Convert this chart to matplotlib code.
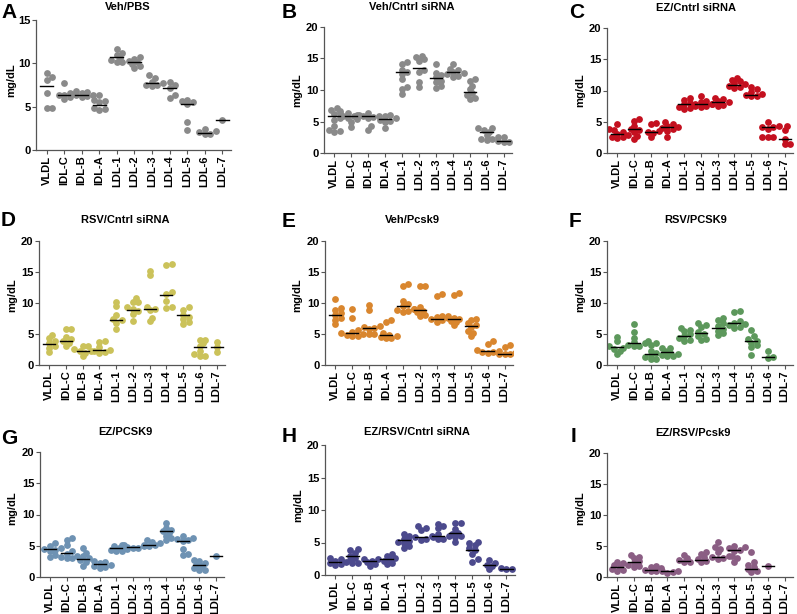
import numpy as np
import matplotlib
matplotlib.use('Agg')
import matplotlib.pyplot as plt

plt.rcParams['font.family'] = ['Liberation Sans', 'DejaVu Sans']
plt.rcParams['font.weight'] = 'bold'

CATS = ['VLDL', 'IDL-C', 'IDL-B', 'IDL-A', 'LDL-1', 'LDL-2', 'LDL-3', 'LDL-4', 'LDL-5', 'LDL-6', 'LDL-7']

# panel A  Veh/PBS
a_vals = [[8.9, 8.4, 8.1, 6.6, 4.8, 4.8], [7.7, 6.6, 6.4, 6.4, 6.1, 5.9],
          [6.8, 6.7, 6.6, 6.5, 6.4, 6.3, 6.2, 6.1], [6.3, 5.8, 5.6, 5.5, 4.9, 4.7, 4.6],
          [11.7, 11.2, 11.0, 10.6, 10.4, 10.2, 10.2], [10.7, 10.5, 10.3, 10.1, 9.9, 9.7, 9.5],
          [8.6, 8.3, 7.9, 7.7, 7.5, 7.4, 7.5], [7.9, 7.5, 7.2, 6.3, 6.0],
          [5.8, 5.6, 5.5, 5.3, 3.2, 2.3], [2.4, 2.2, 2.1, 1.9, 1.8], [3.5]]
a_mid = [7.4, 6.4, 6.4, 5.2, 10.7, 10.1, 7.7, 7.2, 5.3, 2.0, 3.5]

# panel B  Veh/Cntrl siRNA
b_vals = [[7.2, 6.8, 6.6, 6.2, 5.5, 5.3, 4.3, 3.6, 3.3, 3.5], [6.4, 6.3, 6.1, 5.9, 5.8, 5.6, 5.4, 5.0, 4.2],
          [6.3, 6.1, 5.9, 5.8, 5.7, 5.5, 4.3, 3.7], [6.1, 5.8, 5.5, 5.3, 5.1, 4.9, 3.9],
          [14.4, 14.2, 13.2, 12.8, 12.5, 11.7, 10.4, 10.1, 9.4], [15.4, 15.2, 14.9, 14.6, 13.2, 12.9, 11.3, 10.4],
          [14.2, 12.7, 12.4, 12.0, 11.5, 11.2, 10.6, 10.3], [14.2, 13.4, 13.1, 12.9, 12.7, 12.5, 12.3, 12.1],
          [11.7, 11.5, 10.7, 10.2, 9.6, 9.2, 8.8, 8.6], [4.0, 3.9, 3.7, 3.3, 2.8, 2.5, 2.2, 2.2, 2.1],
          [2.6, 1.9, 1.7, 1.8]]
b_mid = [5.8, 5.8, 5.8, 5.4, 12.8, 13.5, 11.9, 12.8, 9.7, 3.3, 1.9]

# panel C  EZ/Cntrl siRNA
c_vals = [[4.7, 3.8, 3.7, 3.4, 3.1, 2.9, 2.6, 2.5, 2.4], [5.5, 5.2, 4.4, 3.8, 3.7, 3.3, 2.8, 2.2],
          [4.8, 4.7, 3.6, 3.3, 3.2, 2.6], [4.9, 4.7, 4.3, 4.1, 4.0, 3.8, 3.6, 2.6],
          [8.8, 8.5, 8.0, 7.8, 7.6, 7.4, 7.2, 7.0], [9.2, 8.4, 8.1, 7.9, 7.8, 7.6, 7.4],
          [8.8, 8.6, 8.3, 8.1, 7.9, 7.7, 7.5], [12.0, 11.7, 11.5, 11.2, 11.0, 10.8, 10.6, 10.4],
          [10.5, 10.2, 9.8, 9.5, 9.3, 9.1, 9.2], [5.0, 4.4, 4.2, 4.1, 3.9, 2.6, 2.5, 2.5],
          [4.3, 3.7, 2.3, 1.5, 1.4]]
c_mid = [3.1, 3.8, 3.4, 4.2, 7.8, 7.9, 8.1, 10.9, 9.3, 4.2, 2.2]

# panel D  RSV/Cntrl siRNA
d_vals = [[4.8, 4.3, 3.8, 3.5, 3.1, 2.8, 2.1], [5.8, 5.8, 4.5, 4.2, 3.9, 3.6, 3.0],
          [3.1, 3.0, 2.6, 2.3, 2.2, 2.0, 1.5], [3.9, 3.7, 2.9, 2.5, 2.3, 2.1, 1.9],
          [10.2, 9.5, 8.0, 7.4, 7.2, 6.8, 5.8], [10.8, 10.2, 10.2, 9.3, 9.0, 8.7, 8.3, 7.1],
          [15.2, 14.5, 9.3, 9.0, 8.8, 7.6, 7.1], [16.3, 16.1, 11.7, 11.4, 10.4, 9.3, 9.2],
          [9.3, 8.9, 8.1, 7.8, 7.4, 7.0, 6.6], [4.1, 4.0, 3.5, 3.0, 2.2, 1.8, 1.5, 1.4],
          [3.7, 2.9, 2.1]]
d_mid = [3.4, 3.9, 2.3, 2.4, 7.3, 8.9, 9.0, 11.3, 8.1, 2.9, 2.9]

# panel E  Veh/Pcsk9
e_vals = [[10.6, 9.2, 8.8, 8.4, 8.0, 7.6, 7.3, 6.6], [9.1, 7.6, 5.6, 5.3, 5.1, 5.0, 4.9, 4.7, 4.6],
          [9.6, 8.9, 6.3, 6.1, 5.9, 5.8, 5.0, 5.0], [7.3, 6.9, 5.2, 4.9, 4.7, 4.5, 4.4, 4.3],
          [13.0, 12.8, 10.3, 9.8, 9.5, 9.0, 8.8, 8.7, 8.6], [12.8, 12.7, 9.4, 9.0, 8.7, 8.5, 8.1, 7.9],
          [11.5, 11.2, 7.9, 7.7, 7.6, 7.4, 7.2, 7.0], [11.6, 11.3, 7.9, 7.6, 7.4, 7.1, 6.9, 6.4],
          [7.5, 7.2, 6.7, 6.4, 6.1, 5.5, 5.1, 4.6], [3.8, 3.4, 2.5, 2.3, 2.1, 2.1, 2.0],
          [3.2, 2.9, 2.0, 1.8, 1.7, 1.7]]
e_mid = [8.1, 5.2, 6.0, 4.9, 9.5, 8.9, 7.5, 7.5, 6.3, 2.3, 1.8]

# panel F  RSV/PCSK9
f_vals = [[4.5, 3.8, 3.0, 2.8, 2.6, 2.2, 1.7], [6.6, 5.4, 4.4, 3.7, 3.5, 3.3, 3.1, 3.0],
          [3.8, 3.6, 3.3, 2.3, 1.9, 1.6, 1.3, 1.0, 0.9], [2.8, 2.7, 2.3, 2.0, 1.8, 1.6, 1.5, 1.4],
          [6.0, 5.7, 5.5, 5.0, 4.6, 4.3, 4.1, 3.9], [6.7, 6.5, 6.1, 5.4, 5.0, 4.6, 4.2, 4.0],
          [7.6, 7.2, 6.7, 6.3, 5.8, 5.5, 5.1, 4.8], [8.7, 8.5, 7.1, 6.8, 6.6, 6.4, 6.2, 6.0],
          [5.6, 4.6, 4.2, 3.9, 3.6, 3.2, 2.9, 1.6], [2.3, 1.3, 1.1], []]
f_mid = [2.9, 3.5, 1.8, 2.1, 4.7, 5.1, 5.9, 6.8, 3.9, 1.3, None]

# panel G  EZ/PCSK9
g_vals = [[5.4, 5.0, 4.7, 4.5, 4.3, 4.1, 3.5, 3.2], [6.3, 5.9, 5.1, 4.1, 3.7, 3.3, 3.2, 3.1, 3.0],
          [4.7, 3.9, 3.3, 3.0, 2.8, 2.4, 1.8], [2.6, 2.4, 2.2, 2.0, 1.8, 1.6, 1.5],
          [5.1, 4.9, 4.7, 4.5, 4.4, 4.2, 4.1], [5.1, 4.9, 4.8, 4.7, 4.6],
          [5.9, 5.6, 5.4, 5.2, 5.1, 5.0], [8.7, 7.9, 7.6, 7.4, 7.1, 6.6, 6.3, 5.9],
          [6.5, 6.3, 6.1, 5.9, 5.7, 4.5, 3.7, 3.5], [2.8, 2.6, 2.3, 2.0, 1.7, 1.4, 1.2, 1.1],
          [3.4]]
g_mid = [4.5, 3.9, 2.9, 2.1, 4.6, 4.8, 5.2, 7.3, 5.7, 1.9, 3.4]

# panel H  EZ/RSV/Cntrl siRNA
h_vals = [[2.6, 2.4, 2.2, 2.0, 1.8, 1.7, 1.5], [4.0, 3.8, 3.4, 3.0, 2.6, 2.3, 1.9, 1.8],
          [2.5, 2.4, 2.2, 2.0, 1.7, 1.4], [3.3, 3.0, 2.6, 2.4, 2.2, 1.9, 1.7],
          [6.3, 6.0, 5.6, 5.3, 5.1, 4.9, 4.5, 4.1], [7.5, 7.3, 6.9, 6.0, 5.8, 5.6, 5.4],
          [7.9, 7.5, 7.2, 6.3, 6.0, 5.8, 5.6, 5.5], [8.0, 8.0, 7.1, 6.5, 6.3, 6.0, 5.8, 5.1],
          [5.1, 4.9, 4.6, 4.2, 3.9, 3.3, 2.4, 2.0], [2.3, 1.9, 1.6, 1.4, 0.9],
          [1.1, 1.0, 1.0]]
h_mid = [2.0, 2.9, 2.2, 2.4, 5.4, 5.8, 6.0, 6.4, 3.8, 1.5, 1.0]

# panel I  EZ/RSV/Pcsk9
i_vals = [[2.4, 2.2, 1.9, 1.6, 1.3, 1.1, 1.0], [3.5, 3.3, 3.0, 2.6, 2.3, 2.0, 1.7, 1.6],
          [1.8, 1.6, 1.4, 1.2, 1.0, 0.9], [1.2, 1.0, 0.9, 0.8, 0.7],
          [3.5, 3.0, 2.7, 2.5, 2.4], [4.0, 3.7, 3.2, 2.9, 2.6, 2.4],
          [5.6, 4.8, 4.5, 4.0, 3.4, 3.2, 3.1, 2.9], [5.0, 4.8, 4.6, 4.4, 4.2, 3.4, 3.0, 2.5],
          [4.0, 2.4, 2.0, 1.6, 1.3, 1.0, 0.8], [1.8], []]
i_mid = [1.6, 2.5, 1.2, 0.9, 2.6, 2.8, 3.2, 4.4, 1.3, 1.8, None]

W, H = 797, 614


def swarm(vals, sy, sx, d=6.5):
    # loose beeswarm: dots may overlap a little, like the original
    vals = np.asarray(vals, dtype=float)
    offs = np.zeros(len(vals))
    placed = []
    for i in np.argsort(vals):
        y = vals[i] * sy
        for k in [0, 1, -1, 2, -2, 3, -3, 4, -4, 5, -5]:
            x = k * d * 0.42
            if all((x - px) ** 2 + (y - py) ** 2 >= (d * 0.62) ** 2 for px, py in placed):
                break
        placed.append((x, y))
        offs[i] = x / sx
    return offs


def panel(fig, rect, vals, mids, color, ymax, title, letter, title_xy, letter_xy, ylab_xy):
    left, top, width, bottom = rect
    ax = fig.add_axes([left / W, 1 - bottom / H, width / W, (bottom - top) / H])
    xmin, xmax = -0.6, 10.5
    sx = width / (xmax - xmin)
    sy = (bottom - top) / ymax
    for k, v in enumerate(vals):
        if len(v) == 0:
            continue
        off = swarm(v, sy, sx)
        ax.scatter(k + off, v, s=24, color=color, linewidths=0, zorder=2)
        if mids[k] is not None:
            ax.plot([k - 0.36, k + 0.36], [mids[k], mids[k]], color='black', lw=1.0, zorder=3)
    ax.set_xlim(xmin, xmax)
    ax.set_ylim(0, ymax)
    ax.set_yticks(np.arange(0, ymax + 1, 5))
    ax.set_xticks(range(len(CATS)))
    ax.set_xticklabels(CATS, rotation=90, fontsize=8, fontweight='bold')
    for lab in ax.get_yticklabels():
        lab.set_fontsize(8)
        lab.set_fontweight('bold')
    for s in ['top', 'right']:
        ax.spines[s].set_visible(False)
    for s in ['left', 'bottom']:
        ax.spines[s].set_color('#555555')
        ax.spines[s].set_linewidth(0.9)
    ax.tick_params(axis='both', length=3, width=0.8, color='#555555', pad=1.0)
    ax.set_facecolor('none')
    fig.text(title_xy[0] / W, 1 - title_xy[1] / H, title, ha='center', va='center',
             fontsize=8, fontweight='bold')
    fig.text(letter_xy[0] / W, 1 - letter_xy[1] / H, letter, ha='left', va='center',
             fontsize=15, fontweight='bold')
    fig.text(ylab_xy[0] / W, 1 - ylab_xy[1] / H, 'mg/dL', ha='center', va='center',
             rotation=90, fontsize=8, fontweight='bold')
    return ax


fig = plt.figure(figsize=(W / 100, H / 100), dpi=100)

panel(fig, (36, 20, 195, 150), a_vals, a_mid, '#8a8a8a', 15, 'Veh/PBS', 'A', (128, 7), (1, 13), (11, 80))
panel(fig, (324, 27, 188, 153), b_vals, b_mid, '#8a8a8a', 20, 'Veh/Cntrl siRNA', 'B', (412, 7), (282, 12), (297, 90))
panel(fig, (607, 28, 186, 153), c_vals, c_mid, '#c4101f', 20, 'EZ/Cntrl siRNA', 'C', (696, 8), (569, 13), (580, 90))

panel(fig, (39, 241, 186, 365), d_vals, d_mid, '#cbc25a', 20, 'RSV/Cntrl siRNA', 'D', (125, 220), (1, 221), (12, 295))
panel(fig, (325, 241, 188, 365), e_vals, e_mid, '#d9862e', 20, 'Veh/Pcsk9', 'E', (412, 220), (282, 222), (297, 295))
panel(fig, (607, 241, 186, 365), f_vals, f_mid, '#5d985c', 20, 'RSV/PCSK9', 'F', (696, 220), (569, 222), (580, 295))

panel(fig, (40, 452, 184, 577), g_vals, g_mid, '#6e92b3', 20, 'EZ/PCSK9', 'G', (125, 432), (1, 438), (12, 508))
panel(fig, (325, 445, 190, 575), h_vals, h_mid, '#4c4a8d', 20, 'EZ/RSV/Cntrl siRNA', 'H', (417, 432), (282, 437), (298, 505))
panel(fig, (607, 453, 186, 577), i_vals, i_mid, '#8b5e84', 20, 'EZ/RSV/Pcsk9', 'I', (693, 433), (571, 437), (580, 508))

fig.savefig('out.png', dpi=100)
